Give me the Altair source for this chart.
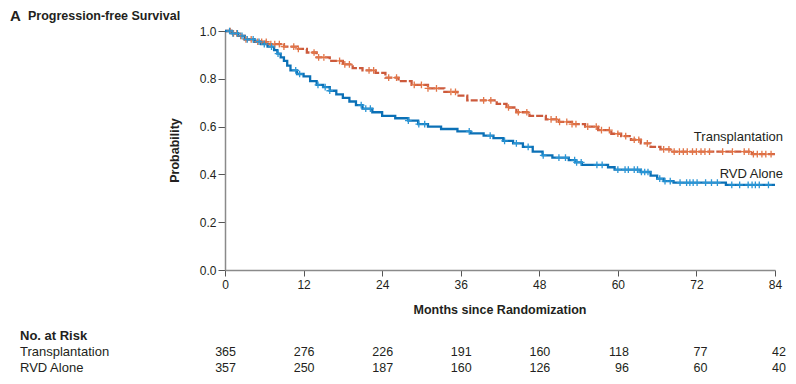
import altair as alt
import numpy as np
import pandas as pd

# ---- data ----
tx_time = [0, 1.0, 2.0, 3.0, 4.5, 6.5, 9.0, 11.0, 12.5, 14.0, 16.0, 18.0, 19.5, 21.0, 23.0, 24.5,
           26.5, 28.5, 31.0, 33.5, 35.5, 37.0, 41.5, 43.0, 44.5, 46.5, 49.0, 51.0, 53.0, 55.0,
           57.0, 59.0, 60.5, 62.0, 63.5, 65.0, 66.5, 68.0, 80.5]
tx_surv = [1.0, 0.99, 0.98, 0.965, 0.955, 0.945, 0.935, 0.925, 0.91, 0.89, 0.875, 0.86, 0.845, 0.835,
           0.825, 0.805, 0.79, 0.775, 0.76, 0.745, 0.73, 0.71, 0.695, 0.68, 0.66, 0.645, 0.63, 0.62,
           0.61, 0.60, 0.585, 0.57, 0.56, 0.545, 0.53, 0.515, 0.505, 0.495, 0.485]

rvd_time = [0, 1.0, 2.0, 3.0, 4.5, 5.5, 6.5, 7.5, 8.0, 8.5, 9.0, 9.5, 10.0, 11.0, 12.0, 13.0, 14.0,
            15.0, 16.0, 17.0, 18.0, 19.0, 20.0, 21.0, 22.5, 24.0, 26.0, 28.0, 29.5, 31.0, 33.0,
            35.5, 37.5, 39.5, 41.0, 42.5, 44.0, 45.5, 47.0, 48.5, 50.0, 52.5, 53.5, 54.5, 58.5,
            59.5, 63.5, 65.0, 66.0, 67.0, 68.5, 76.5]
rvd_surv = [1.0, 0.99, 0.98, 0.965, 0.955, 0.945, 0.935, 0.92, 0.905, 0.89, 0.875, 0.855, 0.835,
            0.82, 0.81, 0.79, 0.775, 0.765, 0.75, 0.735, 0.72, 0.705, 0.69, 0.675, 0.66, 0.645,
            0.635, 0.625, 0.61, 0.60, 0.59, 0.58, 0.572, 0.562, 0.552, 0.54, 0.53, 0.515, 0.495,
            0.48, 0.47, 0.46, 0.45, 0.44, 0.43, 0.42, 0.41, 0.395, 0.382, 0.372, 0.366, 0.356]

tx_censor = [0.8, 1.3, 1.8, 2.4, 3.2, 4.0, 5.0, 5.6, 6.3, 7.0, 7.6, 8.3, 9.0, 10.5, 11.2, 13.6, 14.3,
             15.1, 17.5, 18.3, 19.0, 22.0, 22.7, 25.0, 26.2, 28.9, 30.0, 31.0, 32.3, 34.5, 35.2,
             39.5, 40.6, 43.3, 44.8, 46.1, 49.8, 50.6, 51.1, 52.2, 53.0, 53.6, 55.4, 56.7, 57.5,
             58.7, 60.0, 61.2, 62.5, 63.2, 64.5, 67.0, 67.8, 68.6, 69.4, 70.0, 70.6, 71.4, 72.0,
             72.7, 73.3, 74.0, 76.0, 77.5, 79.3, 80.0, 80.7, 81.3, 82.0, 82.6, 83.4]
rvd_censor = [0.7, 1.2, 1.9, 2.6, 3.4, 4.3, 5.2, 6.0, 7.1, 8.1, 10.8, 11.4, 14.2, 15.3, 16.0, 20.8,
              21.5, 22.2, 28.0, 29.6, 30.5, 37.3, 40.5, 42.7, 44.5, 46.3, 48.6, 51.0, 52.0, 53.4,
              53.7, 54.4, 56.8, 57.6, 60.0, 61.1, 61.6, 62.5, 63.0, 63.6, 64.1, 64.6, 66.4, 67.2,
              68.0, 69.5, 70.5, 71.0, 71.5, 72.1, 73.4, 74.3, 75.2, 77.4, 78.6, 79.9, 80.5, 81.0,
              81.6, 83.0]

risk_months = [0, 12, 24, 36, 48, 60, 72, 84]
risk_tx = [365, 276, 226, 191, 160, 118, 77, 42]
risk_rvd = [357, 250, 187, 160, 126, 96, 60, 40]

groups = ["Transplantation", "RVD Alone"]
END = 84

# ---- tables ----
def curve(times, surv, name):
    t = list(times) + [END]
    s = list(surv) + [surv[-1]]
    return pd.DataFrame({"month": t, "surv": s, "group": name})

def censor(times, ctimes, surv, name):
    idx = np.searchsorted(np.array(times), np.array(ctimes), side="right") - 1
    return pd.DataFrame({"month": ctimes, "surv": np.array(surv)[idx], "group": name})

curves = pd.concat([curve(tx_time, tx_surv, groups[0]), curve(rvd_time, rvd_surv, groups[1])])
cens = pd.concat([censor(tx_time, tx_censor, tx_surv, groups[0]),
                  censor(rvd_time, rvd_censor, rvd_surv, groups[1])])

W, H = 550, 239
FONT = "Liberation Sans Narrow, Arial Narrow, sans-serif"
TXT = "#231f20"

xs = alt.Scale(domain=[0, 84], nice=False, zero=False)
ys = alt.Scale(domain=[0, 1], nice=False)

line_col = alt.Scale(domain=groups, range=["#cc5a3c", "#0b70b6"])
mark_col = alt.Scale(domain=groups, range=["#e27547", "#2a96d6"])

xaxis = alt.Axis(values=risk_months, title=None, grid=False, domainColor="#8a8a8a", domainWidth=1.5,
                 tickColor="#555", tickSize=6, labelFont=FONT, labelFontSize=12, labelColor=TXT,
                 labelPadding=3, labelFlush=False)
yaxis = alt.Axis(values=[0, 0.2, 0.4, 0.6, 0.8, 1.0], format=".1f", title=None, grid=False,
                 domainColor="#8a8a8a", domainWidth=1.5, tickColor="#555", tickSize=7,
                 labelFont=FONT, labelFontSize=12, labelColor=TXT, labelPadding=2)

base_line = alt.Chart(curves).mark_line(interpolate="step-after", strokeWidth=2.3).encode(
    x=alt.X("month:Q", scale=xs, axis=xaxis),
    y=alt.Y("surv:Q", scale=ys, axis=yaxis),
    color=alt.Color("group:N", scale=line_col, legend=None),
    strokeDash=alt.StrokeDash("group:N", scale=alt.Scale(domain=groups, range=[[7, 2], [1, 0]]),
                              legend=None),
)

cens_marks = alt.Chart(cens).mark_point(shape="M-1,0L1,0M0,-1L0,1", filled=False, size=45,
                                        strokeWidth=1.3, opacity=1).encode(
    x=alt.X("month:Q", scale=xs),
    y=alt.Y("surv:Q", scale=ys),
    color=alt.Color("group:N", scale=mark_col, legend=None),
)

def text(t, x, y, size=13, weight="normal", align="left", angle=0, font=FONT):
    return alt.Chart(pd.DataFrame({"t": [t]})).mark_text(
        align=align, baseline="middle", fontSize=size, fontWeight=weight, font=font,
        color=TXT, angle=angle).encode(text="t:N", x=alt.value(x), y=alt.value(y))

labels = alt.layer(
    text("A", -215, -15, size=15, weight="bold"),
    text("Progression-free Survival", -197, -15, size=12.5, weight="bold"),
    text("Probability", -50, H / 2, size=12.5, weight="bold", align="center", angle=270),
    text("Months since Randomization", W / 2, 279, size=12.5, weight="bold", align="center"),
    text("Transplantation", 558, 106, size=13, align="right"),
    text("RVD Alone", 558, 143, size=13, align="right"),
    text("No. at Risk", -205, 305, size=13, weight="bold"),
    text("Transplantation", -205, 321, size=13),
    text("RVD Alone", -205, 337, size=13),
)

def risk_row(values, ypix):
    df = pd.DataFrame({"month": risk_months, "n": values})
    return alt.Chart(df).mark_text(align="right", baseline="middle", dx=11, fontSize=12.5,
                                   font=FONT, color=TXT).encode(
        x=alt.X("month:Q", scale=xs), y=alt.value(ypix), text="n:Q")

chart = alt.layer(base_line, cens_marks, risk_row(risk_tx, 321), risk_row(risk_rvd, 337),
                  labels).resolve_scale(color="independent").properties(
    width=W, height=H,
    autosize=alt.AutoSizeParams(type="none"),
    padding={"left": 217, "top": 23, "right": 13, "bottom": 105},
).configure_view(stroke=None)

chart.save("out.html", embed_options={"renderer": "svg", "actions": False})
